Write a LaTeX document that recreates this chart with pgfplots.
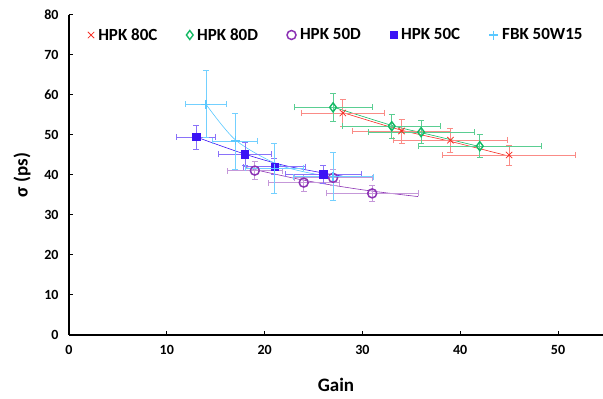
\documentclass[border=0pt]{standalone}
\usepackage{pgfplots}
\pgfplotsset{compat=1.18}
\usepackage{fontspec}
\setmainfont{Carlito}
\definecolor{redcol}{RGB}{245,45,35}
\definecolor{greencol}{RGB}{20,185,100}
\definecolor{purplecol}{RGB}{140,50,180}
\definecolor{bluecol}{RGB}{60,20,245}
\definecolor{fbkcol}{RGB}{90,200,255}
\pgfplotstableread{
x y ex ey
28 55.5 4.2 3.4
34 51 5 3
39 48.7 5.8 3
45 45 6.8 2.5
}\hpkA
\pgfplotstableread{
x y ex ey
27 56.9 4 3.4
33 52.2 5 3
36 50.7 5.4 2.9
42 47.2 6.3 2.9
}\hpkB
\pgfplotstableread{
x y ex ey
19 41.1 2.8 2.3
24 38.1 3.6 2.1
27 39.3 4 2.0
31 35.4 4.7 1.9
}\hpkC
\pgfplotstableread{
x y ex ey
13 49.5 2 3
18 45.2 2.7 2.9
21 42.1 3.2 2
26 40.2 3.9 2.3
}\hpkD
\pgfplotstableread{
x y ex ey
14 57.7 2.1 8.4
17 48.5 2.3 7
21 41.7 3 6.2
27 39.6 4.1 6
}\fbk
\begin{document}
\begin{tikzpicture}
\begin{axis}[
 name=ax,
 width=534pt, height=320pt, scale only axis,
 xmin=0, xmax=54.6, ymin=0, ymax=80,
 axis lines=left, axis line style={-, line width=1.3pt},
 xtick={0,10,...,50}, ytick={0,10,...,80},
 tick align=inside, major tick length=4pt, tick style={line width=1pt, black},
 /pgf/number format/assume math mode=true,
 xticklabel style={font=\bfseries\fontsize{14}{14}\selectfont, yshift=-7pt},
 yticklabel style={font=\bfseries\fontsize{14}{14}\selectfont, xshift=-7pt},
 xlabel={\bfseries Gain}, ylabel={\bfseries σ (ps)},
 xlabel style={font=\bfseries\fontsize{19}{19}\selectfont, at={(axis description cs:0.5,-0.156)}, anchor=center},
 ylabel style={font=\bfseries\fontsize{19}{19}\selectfont, at={(axis description cs:-0.088,0.5)}, anchor=center},
 legend style={draw=none, fill=none, at={(axis description cs:0.035,0.965)}, anchor=north west, legend columns=-1,
   font=\bfseries\fontsize{17}{17}\selectfont, inner sep=0pt,
   /tikz/every odd column/.append style={column sep=2pt},
   /tikz/every even column/.append style={column sep=27pt}},
 legend image code/.code={\draw[#1] plot coordinates {(0.12cm,0cm)};},
 legend cell align=left,
]
\addplot[color=redcol, line width=0.6pt, smooth, forget plot] coordinates {(28,55.6) (34,51.2) (39,48.4) (45,44.7)};
\addplot[color=greencol, line width=0.6pt, smooth, forget plot] coordinates {(27,57) (33,52.4) (36,50.6) (42,47.1)};
\addplot[color=purplecol, line width=0.6pt, smooth, forget plot] coordinates {(18,41.9) (24,38.7) (30,36.3) (35.7,34.6)};
\addplot[color=bluecol, line width=0.6pt, smooth, forget plot] coordinates {(13,49.5) (18,45.2) (22,42.4) (26,40.5) (28,39.7)};
\addplot[color=fbkcol, line width=0.6pt, smooth, forget plot] coordinates {(14,57.7) (17,48.8) (21,43) (24,40.8) (27,39.5)};

\addplot[only marks, color=redcol, mark=x, mark size=4.5pt, mark options={line width=0.8pt, draw=redcol},
  error bars/.cd, x dir=both, x explicit, y dir=both, y explicit,
  error bar style={draw=redcol!55, line width=0.8pt}, error mark options={rotate=90, draw=redcol!55, mark size=3pt, line width=0.8pt}]
  table[x=x, y=y, x error=ex, y error=ey] {\hpkA};
\addlegendentry{HPK 80C}
\addplot[only marks, color=greencol, mark=diamond, mark size=4.5pt, mark options={line width=1.4pt, draw=greencol},
  error bars/.cd, x dir=both, x explicit, y dir=both, y explicit,
  error bar style={draw=greencol!70, line width=0.8pt}, error mark options={rotate=90, draw=greencol!70, mark size=3pt, line width=0.8pt}]
  table[x=x, y=y, x error=ex, y error=ey] {\hpkB};
\addlegendentry{HPK 80D}
\addplot[only marks, color=purplecol, mark=o, mark size=4.5pt, mark options={line width=1.5pt, draw=purplecol},
  error bars/.cd, x dir=both, x explicit, y dir=both, y explicit,
  error bar style={draw=purplecol!50, line width=0.8pt}, error mark options={rotate=90, draw=purplecol!50, mark size=3pt, line width=0.8pt}]
  table[x=x, y=y, x error=ex, y error=ey] {\hpkC};
\addlegendentry{HPK 50D}
\addplot[only marks, color=bluecol, mark=square*, mark size=3.6pt, mark options={draw=bluecol, fill=bluecol},
  error bars/.cd, x dir=both, x explicit, y dir=both, y explicit,
  error bar style={draw=bluecol!60, line width=0.8pt}, error mark options={rotate=90, draw=bluecol!60, mark size=3pt, line width=0.8pt}]
  table[x=x, y=y, x error=ex, y error=ey] {\hpkD};
\addlegendentry{HPK 50C}
\addplot[only marks, color=fbkcol, mark=+, mark size=4.5pt, mark options={line width=1.2pt, draw=fbkcol},
  error bars/.cd, x dir=both, x explicit, y dir=both, y explicit,
  error bar style={draw=fbkcol!85, line width=0.8pt}, error mark options={rotate=90, draw=fbkcol!85, mark size=3pt, line width=0.8pt}]
  table[x=x, y=y, x error=ex, y error=ey] {\fbk};
\addlegendentry{FBK 50W15}
\end{axis}
\pgfresetboundingbox
\path (ax.south west) ++(-69pt,-64pt) rectangle ([shift={(0pt,15pt)}]ax.north east);
\end{tikzpicture}
\end{document}
